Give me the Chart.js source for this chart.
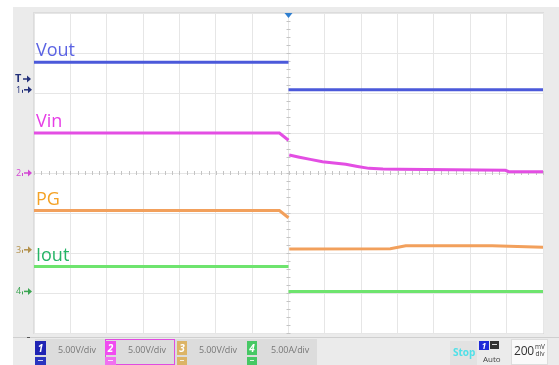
<!DOCTYPE html>
<html>
<head>
<meta charset="utf-8">
<script src="https://cdn.jsdelivr.net/npm/chart.js@4.4.1/dist/chart.umd.min.js"></script>
<style>
  html, body { margin: 0; padding: 0; background: #ffffff; }
  #wrap { position: relative; width: 559px; height: 365px; overflow: hidden; font-family: "Open Sans", "Noto Sans", sans-serif; }
  #scope { position: absolute; left: 0; top: 0; }
  .box { position: absolute; box-sizing: border-box; }
  .chip { position: absolute; box-sizing: border-box; color: #fff; font: italic bold 10px "Open Sans", sans-serif; text-align: center; line-height: 14px; }
  .dash { position: absolute; box-sizing: border-box; }
  .dash::after { content: ""; position: absolute; left: 3px; right: 3px; top: 3px; height: 1px; background: rgba(255,255,255,0.8); }
  .scale { position: absolute; font: 9px "Open Sans", sans-serif; letter-spacing: -0.1px; color: #777777; line-height: 14px; white-space: nowrap; }
</style>
</head>
<body>
<div id="wrap">
  <canvas id="scope" width="559" height="365"></canvas>

  <!-- channel scale buttons -->
  <div class="box" style="left:35px;top:339px;width:282px;height:26px;background:#dcdcdc;"></div>

  <div class="chip" style="left:35px;top:341px;width:11px;height:14px;background:#1f24b4;">1</div>
  <div class="dash" style="left:35px;top:357px;width:11px;height:8px;background:#2a35c0;"></div>
  <div class="scale" style="left:58px;top:343px;">5.00V/div</div>

  <div class="box" style="left:105px;top:339px;width:70px;height:26px;border:1px solid #e04ce0;"></div>
  <div class="chip" style="left:105px;top:341px;width:11px;height:14px;background:#f04cf0;">2</div>
  <div class="dash" style="left:105px;top:357px;width:11px;height:8px;background:#f070f0;"></div>
  <div class="scale" style="left:128px;top:343px;">5.00V/div</div>

  <div class="chip" style="left:177px;top:341px;width:10px;height:14px;background:#dcb466;">3</div>
  <div class="dash" style="left:177px;top:357px;width:10px;height:8px;background:#dcb466;"></div>
  <div class="scale" style="left:199px;top:343px;">5.00V/div</div>

  <div class="chip" style="left:247px;top:341px;width:10px;height:14px;background:#46c864;">4</div>
  <div class="dash" style="left:247px;top:357px;width:10px;height:8px;background:#46c864;"></div>
  <div class="scale" style="left:271px;top:343px;">5.00A/div</div>

  <!-- run state, trigger and timebase -->
  <div class="box" style="left:450px;top:341px;width:27px;height:24px;background:#e2e2e2;"></div>
  <div class="scale" style="left:453px;top:345px;color:#4fe0e8;font-weight:bold;font-size:10px;letter-spacing:0;">Stop</div>
  <div class="chip" style="left:479px;top:341px;width:10px;height:9px;background:#1f2ad8;line-height:9px;font-size:8px;">1</div>
  <div class="box" style="left:490px;top:341px;width:9px;height:8px;background:#333;"></div>
  <div class="box" style="left:492px;top:344px;width:5px;height:1px;background:#ddd;"></div>
  <div class="scale" style="left:483px;top:352px;font-size:8px;color:#444;letter-spacing:0;">Auto</div>
  <div class="box" style="left:511px;top:339px;width:37px;height:26px;background:#fafafa;border:1px solid #dddddd;"></div>
  <div class="scale" style="left:514px;top:343px;font-size:12px;color:#333;line-height:16px;letter-spacing:-0.2px;">200</div>
  <div class="scale" style="left:535px;top:343px;font-size:6.5px;color:#333;line-height:7px;text-align:center;letter-spacing:0;">mV<br>div</div>
</div>

<script>
// Timebase: 200 ms/div, trigger at t = 0, 14 horizontal divisions
const timeRangeMs = [-1400, 1400];
const msPerDiv = 200;
// Vertical: 8 divisions, 5 V (or 5 A) per division
const unitsPerDiv = 5;

// Channel 1 - Vout (V)
const voutTimes  = [-1400, 0, 0, 0, 1400];
const voutValues = [3.45, 3.45, null, 0, 0];

// Channel 2 - Vin (V)
const vinTimes  = [-1400, -50, 0, 0, 4, 60, 120, 187, 250, 315, 380, 443, 520, 608, 900, 1193, 1212, 1400];
const vinValues = [5.0, 5.0, 4.1, null, 2.25, 1.98, 1.7, 1.41, 1.25, 1.08, 0.82, 0.58, 0.5, 0.46, 0.4, 0.33, 0.16, 0.16];

// Channel 3 - PG (V)
const pgTimes  = [-1400, -50, 0, 0, 4, 560, 645, 1120, 1400];
const pgValues = [4.9, 4.9, 4.0, null, 0.1, 0.12, 0.5, 0.5, 0.33];

// Channel 4 - Iout (A)
const ioutTimes  = [-1400, 0, 0, 0, 1400];
const ioutValues = [3.1, 3.1, null, 0, 0];

// Ground reference of each channel, in divisions from screen centre
const channelOffsets = [2.08, 0, -1.92, -2.96];
const triggerLevelDiv = 2.35;

const channelNames  = ['Vout', 'Vin', 'PG', 'Iout'];
const traceColors   = ['#4b59da', '#e34ee3', '#f2a05c', '#6ee46e'];
const labelColors   = ['#5b63e3', '#e63ee6', '#f4a226', '#25b466'];
const markerColors  = ['#23307a', '#d346d3', '#b3914c', '#3ba552'];

function toPoints(times, values, ch) {
  return times.map((t, i) => ({
    x: t,
    y: values[i] === null ? null : channelOffsets[ch] + values[i] / unitsPerDiv
  }));
}

const series = [
  toPoints(voutTimes, voutValues, 0),
  toPoints(vinTimes, vinValues, 1),
  toPoints(pgTimes, pgValues, 2),
  toPoints(ioutTimes, ioutValues, 3)
];

// Scope frame, centre-line minor ticks, trigger marker, channel labels
const scopeDecor = {
  id: 'scopeDecor',
  beforeDraw(chart) {
    const { ctx, chartArea: a, width, height } = chart;
    ctx.save();
    ctx.fillStyle = '#ffffff';
    ctx.fillRect(0, 0, width, height);
    ctx.fillStyle = '#ebebeb';
    ctx.fillRect(13, 7, width - 13, height - 7);
    ctx.fillStyle = '#ffffff';
    ctx.fillRect(a.left, a.top, a.right - a.left, a.bottom - a.top);
    ctx.strokeStyle = '#dcdcdc';
    ctx.lineWidth = 1;
    ctx.strokeRect(a.left - 0.5, a.top - 0.5, a.right - a.left + 1, a.bottom - a.top + 1);
    // separator above the status bar
    ctx.strokeStyle = '#cfcfcf';
    ctx.beginPath();
    ctx.moveTo(13, 337.5);
    ctx.lineTo(width, 337.5);
    ctx.stroke();
    ctx.fillStyle = '#555';
    ctx.fillRect(27, 337, 3, 1);
    ctx.restore();
  },
  beforeDatasetsDraw(chart) {
    const { ctx, scales: { x, y } } = chart;
    const cx = x.getPixelForValue(0);
    const cy = y.getPixelForValue(0);
    ctx.save();
    ctx.strokeStyle = '#c4c4c4';
    ctx.lineWidth = 1;
    ctx.beginPath();
    for (let t = timeRangeMs[0]; t <= timeRangeMs[1]; t += msPerDiv / 5) {
      const px = Math.round(x.getPixelForValue(t)) + 0.5;
      ctx.moveTo(px, cy - 2);
      ctx.lineTo(px, cy + 2);
    }
    for (let d = -4; d <= 4.001; d += 0.2) {
      const py = Math.round(y.getPixelForValue(d)) + 0.5;
      ctx.moveTo(cx - 2, py);
      ctx.lineTo(cx + 2, py);
    }
    ctx.stroke();
    ctx.restore();
  },
  afterDraw(chart) {
    const { ctx, chartArea: a, scales: { x, y } } = chart;
    ctx.save();
    // trigger position marker
    const tx = x.getPixelForValue(0);
    ctx.fillStyle = '#2f7fd0';
    ctx.beginPath();
    ctx.moveTo(tx - 4, a.top);
    ctx.lineTo(tx + 4, a.top);
    ctx.lineTo(tx, a.top + 5);
    ctx.closePath();
    ctx.fill();

    // trace names, just above each trace's starting level
    ctx.font = '18px "Open Sans", sans-serif';
    ctx.textBaseline = 'alphabetic';
    series.forEach((pts, i) => {
      ctx.fillStyle = labelColors[i];
      ctx.fillText(channelNames[i], a.left + 2, y.getPixelForValue(pts[0].y) - 6);
    });

    // ground and trigger level markers in the left margin
    const drawArrow = (px, py, color) => {
      ctx.strokeStyle = color;
      ctx.fillStyle = color;
      ctx.lineWidth = 1.5;
      ctx.beginPath();
      ctx.moveTo(px, py);
      ctx.lineTo(px + 5, py);
      ctx.stroke();
      ctx.beginPath();
      ctx.moveTo(px + 8, py);
      ctx.lineTo(px + 4, py - 3.5);
      ctx.lineTo(px + 4, py + 3.5);
      ctx.closePath();
      ctx.fill();
    };
    ctx.textBaseline = 'middle';
    const tyPx = y.getPixelForValue(triggerLevelDiv);
    ctx.font = 'bold 11px "Open Sans", sans-serif';
    ctx.fillStyle = markerColors[0];
    ctx.fillText('T', 15, tyPx);
    drawArrow(23, tyPx, markerColors[0]);
    ctx.font = '9px "Open Sans", sans-serif';
    channelOffsets.forEach((off, i) => {
      const py = y.getPixelForValue(off);
      ctx.fillStyle = markerColors[i];
      ctx.fillText(String(i + 1), 16, py + 0.5);
      ctx.fillRect(22, py, 1, 3);
      drawArrow(24, py, markerColors[i]);
    });
    ctx.restore();
  }
};

new Chart(document.getElementById('scope'), {
  type: 'line',
  data: {
    datasets: series.map((pts, i) => ({
      label: channelNames[i],
      data: pts,
      borderColor: traceColors[i],
      borderWidth: 3,
      pointRadius: 0,
      tension: 0,
      spanGaps: false,
      fill: false
    }))
  },
  options: {
    responsive: false,
    animation: false,
    devicePixelRatio: 1,
    layout: { padding: { left: 34, top: 13, right: 16, bottom: 32 } },
    plugins: { legend: { display: false }, tooltip: { enabled: false } },
    scales: {
      x: {
        type: 'linear',
        min: timeRangeMs[0],
        max: timeRangeMs[1],
        ticks: { display: false, stepSize: msPerDiv },
        grid: { color: '#e6e6e6', drawTicks: false },
        border: { display: false }
      },
      y: {
        type: 'linear',
        min: -4,
        max: 4,
        ticks: { display: false, stepSize: 1 },
        grid: { color: '#e6e6e6', drawTicks: false },
        border: { display: false }
      }
    }
  },
  plugins: [scopeDecor]
});
</script>
</body>
</html>
